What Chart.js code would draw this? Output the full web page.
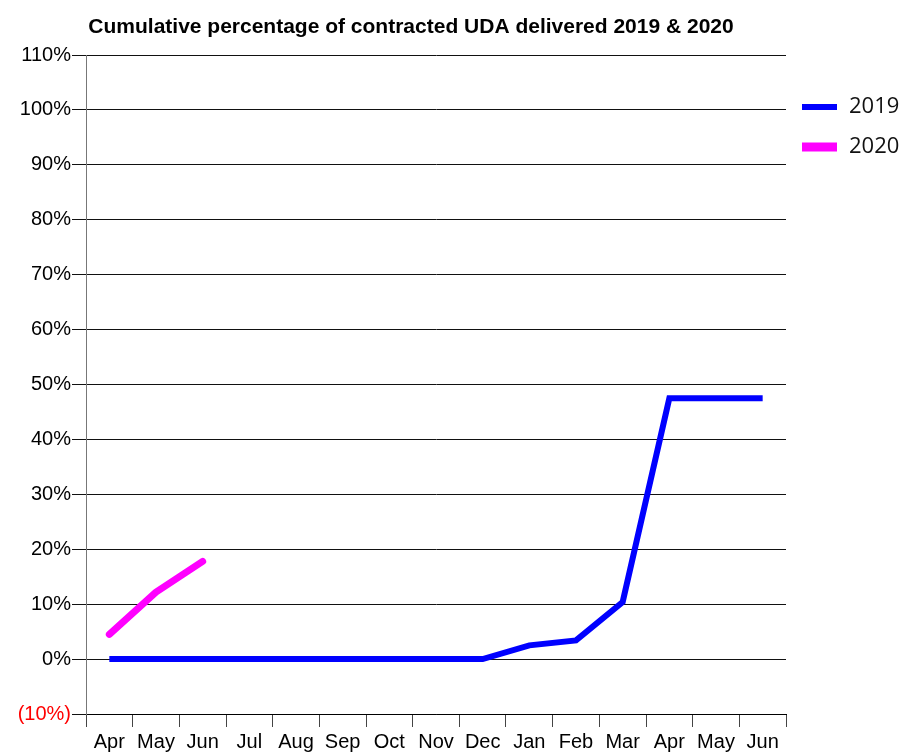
<!DOCTYPE html>
<html>
<head>
<meta charset="utf-8">
<script src="https://cdn.jsdelivr.net/npm/chart.js@4.4.1/dist/chart.umd.min.js"></script>
<style>
    html, body { margin: 0; padding: 0; background: #fff; }
    #wrap { width: 903px; height: 752px; position: relative; }
</style>
</head>
<body>
<div id="wrap"><canvas id="udaChart" width="903" height="752"></canvas></div>
<script>
    // chart data
    var chartTitle = "Cumulative percentage of contracted UDA delivered 2019 & 2020";
    var months = ["Apr", "May", "Jun", "Jul", "Aug", "Sep", "Oct", "Nov", "Dec", "Jan", "Feb", "Mar", "Apr", "May", "Jun"];
    var values2019 = [0, 0, 0, 0, 0, 0, 0, 0, 0, 2.5, 3.4, 10.4, 47.5, 47.5, 47.5];
    var values2020 = [4.5, 12.2, 17.8, null, null, null, null, null, null, null, null, null, null, null, null];
    var seriesNames = ["2019", "2020"];
    var yTickMin = -10;
    var yTickMax = 110;
    var yTickStep = 10;

    var BLUE = '#0000ff';
    var MAGENTA = '#ff00ff';
    var AXIS_FONT = { family: 'Arial, "Liberation Sans", sans-serif', size: 20 };

    function pctLabel(v) {
        if (v < 0) return '(' + Math.abs(v) + '%)';
        return v + '%';
    }

    // title + legend drawn by hand so they sit where the original has them
    var extrasPlugin = {
        id: 'extras',
        afterDraw: function (chart) {
            var ctx = chart.ctx;
            ctx.save();
            ctx.fillStyle = '#000';
            ctx.font = 'bold 21px Arial, "Liberation Sans", sans-serif';
            ctx.textAlign = 'center';
            ctx.textBaseline = 'middle';
            ctx.fillText(chartTitle, 411, 27);

            var items = chart.data.datasets;
            items.forEach(function (ds, i) {
                var y = 107 + i * 40;
                ctx.strokeStyle = ds.borderColor;
                ctx.lineWidth = i === 0 ? 6 : 9;
                ctx.lineCap = 'butt';
                ctx.beginPath();
                ctx.moveTo(802, y);
                ctx.lineTo(837, y);
                ctx.stroke();
                ctx.fillStyle = '#111';
                ctx.font = '22px "Open Sans", "Noto Sans", sans-serif';
                ctx.textAlign = 'left';
                ctx.textBaseline = 'middle';
                ctx.fillText(ds.label, 849, y);
            });
            ctx.restore();
        }
    };

    function renderChart() {
        var canvas = document.getElementById('udaChart');
        var ctx = canvas.getContext('2d');

        new Chart(ctx, {
            type: 'line',
            data: {
                labels: months,
                datasets: [{
                    label: seriesNames[0],
                    data: values2019,
                    borderColor: BLUE,
                    backgroundColor: BLUE,
                    borderWidth: 6,
                    borderCapStyle: 'butt',
                    borderJoinStyle: 'miter',
                    pointRadius: 0,
                    tension: 0,
                    fill: false
                }, {
                    label: seriesNames[1],
                    data: values2020,
                    borderColor: MAGENTA,
                    backgroundColor: MAGENTA,
                    borderWidth: 7,
                    borderCapStyle: 'round',
                    borderJoinStyle: 'round',
                    pointRadius: 0,
                    tension: 0,
                    fill: false
                }]
            },
            options: {
                responsive: false,
                animation: false,
                devicePixelRatio: 1,
                layout: { padding: { left: 0, right: 117, top: 55, bottom: 0 } },
                plugins: {
                    legend: { display: false },
                    title: { display: false },
                    tooltip: { enabled: false }
                },
                scales: {
                    x: {
                        offset: true,
                        grid: {
                            offset: true,
                            drawOnChartArea: false,
                            drawTicks: true,
                            tickLength: 13,
                            color: '#444'
                        },
                        border: { display: true, color: '#000' },
                        ticks: {
                            font: AXIS_FONT,
                            color: '#000',
                            padding: 3,
                            maxRotation: 0,
                            autoSkip: false
                        },
                        afterFit: function (scale) { scale.height = 38; }
                    },
                    y: {
                        min: yTickMin,
                        max: yTickMax,
                        grid: {
                            color: '#111',
                            lineWidth: 1,
                            tickLength: 14
                        },
                        border: { display: true, color: '#777' },
                        ticks: {
                            stepSize: yTickStep,
                            font: AXIS_FONT,
                            padding: 1,
                            color: function (c) { return c.tick.value < 0 ? '#ff0000' : '#000'; },
                            callback: function (v) { return pctLabel(v); }
                        },
                        afterFit: function (scale) { scale.width = 86; }
                    }
                }
            },
            plugins: [extrasPlugin]
        });
    }

    renderChart();
</script>
</body>
</html>
